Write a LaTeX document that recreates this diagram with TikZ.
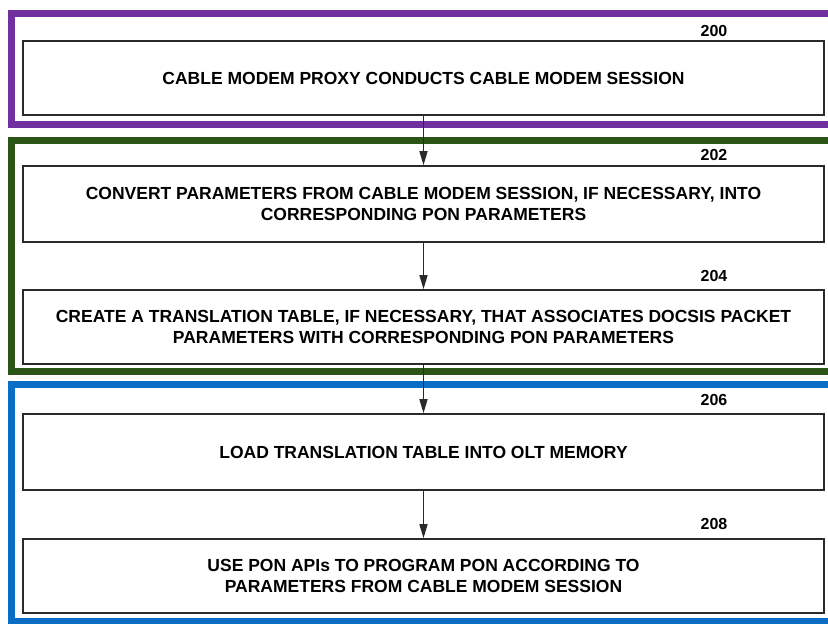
\documentclass[tikz,border=0pt]{standalone}
\usepackage{fontspec}
\setmainfont{Liberation Sans}
\usetikzlibrary{arrows.meta}
\definecolor{fpurple}{HTML}{7030A0}
\definecolor{fgreen}{HTML}{2B5516}
\definecolor{fblue}{HTML}{0A6FC4}
\definecolor{boxline}{HTML}{2A2A2A}
\tikzset{
  stepbox/.style={draw=boxline, line width=1.6pt, fill=white, minimum width=801pt,
    inner sep=0pt, align=center, font=\bfseries\fontsize{17.5}{21}\selectfont},
  lbl/.style={font=\bfseries\fontsize{16}{18}\selectfont, inner sep=0pt},
  frame/.style={line width=7pt},
  flow/.style={draw=boxline, line width=1.4pt, -{Triangle[length=14pt,width=8pt]}},
}
\begin{document}
\begin{tikzpicture}[x=1pt,y=-1pt]
\useasboundingbox (0,0) rectangle (828,624);
\begin{scope}
\clip (0,0) rectangle (828,624);
\draw[frame, fpurple] (11,13.5) rectangle (840,124.5);
\draw[frame, fgreen] (11,140) rectangle (840,371);
\draw[frame, fblue] (11,384.5) rectangle (840,621.5);
\end{scope}
\node[stepbox, minimum height=74pt] (b200) at (423.5,78) {CABLE MODEM PROXY CONDUCTS CABLE MODEM SESSION};
\node[stepbox, minimum height=76pt] (b202) at (423.5,204) {CONVERT PARAMETERS FROM CABLE MODEM SESSION, IF NECESSARY, INTO\\CORRESPONDING PON PARAMETERS};
\node[stepbox, minimum height=74pt] (b204) at (423.5,327) {CREATE A TRANSLATION TABLE, IF NECESSARY, THAT ASSOCIATES DOCSIS PACKET\\PARAMETERS WITH CORRESPONDING PON PARAMETERS};
\node[stepbox, minimum height=76pt] (b206) at (423.5,452) {LOAD TRANSLATION TABLE INTO OLT MEMORY};
\node[stepbox, minimum height=74pt] (b208) at (423.5,576) {USE PON APIs TO PROGRAM PON ACCORDING TO\\PARAMETERS FROM CABLE MODEM SESSION};
\node[lbl] (l200) at (714,31) {200};
\node[lbl] (l202) at (714,155) {202};
\node[lbl] (l204) at (714,276) {204};
\node[lbl] (l206) at (714,400) {206};
\node[lbl] (l208) at (714,524) {208};
\draw[flow] (b200.south) -- (b202.north);
\draw[flow] (b202.south) -- (b204.north);
\draw[flow] (b204.south) -- (b206.north);
\draw[flow] (b206.south) -- (b208.north);
\end{tikzpicture}
\end{document}
